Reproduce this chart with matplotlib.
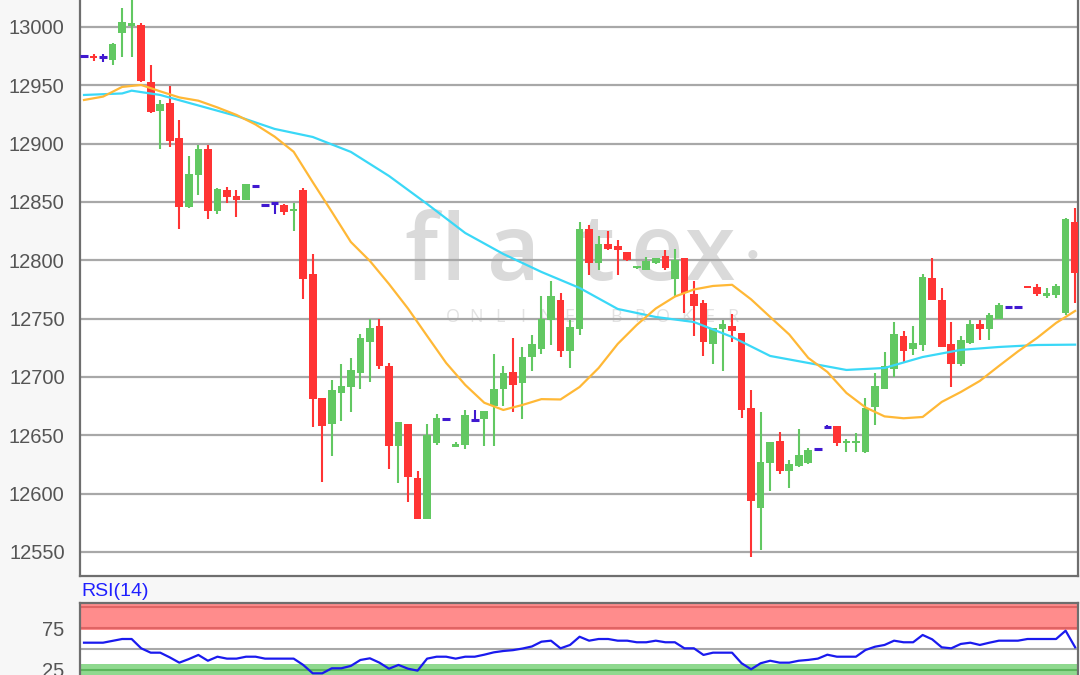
import matplotlib
matplotlib.use("Agg")
import matplotlib.pyplot as plt
import numpy as np

# ---------------- data ----------------
opens = [12975, 12975, 12974, 12972, 12995, 13001, 13002, 12953, 12928, 12935,
         12905, 12846, 12873, 12895, 12842, 12860, 12855, 12852, 12864, 12847,
         12849, 12847, 12842, 12860, 12788, 12682, 12660, 12686, 12691, 12703,
         12730, 12744, 12709, 12641, 12660, 12613, 12578, 12643, 12664, 12640,
         12642, 12663, 12664, 12675, 12690, 12704, 12695, 12717, 12724, 12749,
         12766, 12722, 12741, 12827, 12798, 12814, 12812, 12807, 12793, 12792,
         12798, 12804, 12784, 12802, 12771, 12763, 12728, 12741, 12744, 12738,
         12673, 12588, 12626, 12645, 12619, 12624, 12626, 12638, 12657, 12658,
         12643, 12643, 12636, 12674, 12690, 12707, 12735, 12724, 12727, 12785,
         12766, 12728, 12711, 12729, 12745, 12741, 12750, 12760, 12760, 12776.5,
         12777, 12769, 12770, 12755, 12833]
highs = [12975, 12977, 12977, 12986, 13016, 13030, 13003, 12967, 12937, 12949,
         12920, 12889, 12899, 12899, 12862, 12863, 12860, 12865, 12864, 12847,
         12849, 12848, 12849, 12862, 12805, 12682, 12697, 12711, 12716, 12737,
         12750, 12750, 12712, 12661, 12660, 12619, 12660, 12668, 12664, 12644,
         12672, 12672, 12671, 12720, 12709, 12733, 12726, 12736, 12769, 12782,
         12772, 12749, 12833, 12830, 12821, 12825, 12817, 12807, 12793.5, 12803,
         12802, 12809, 12810, 12802, 12782, 12766, 12742, 12749, 12754, 12738,
         12689, 12670, 12644, 12653, 12629, 12655, 12639, 12638, 12659, 12658,
         12647, 12652, 12682, 12703, 12721, 12747, 12739, 12744, 12788, 12802,
         12776, 12747, 12735, 12749, 12749, 12755, 12763, 12760, 12760, 12776.5,
         12780, 12776, 12780, 12836, 12845]
lows = [12975, 12971, 12970, 12967, 12974, 12974, 12953, 12926, 12895, 12897,
        12827, 12845, 12856, 12835, 12840, 12849, 12837, 12852, 12864, 12847,
        12840, 12839, 12825, 12767, 12657, 12610, 12632, 12662, 12670, 12690,
        12696, 12707, 12621, 12609, 12593, 12578, 12578, 12642, 12664, 12640,
        12638, 12663, 12641, 12641, 12675, 12670, 12664, 12705, 12720, 12727,
        12717, 12708, 12736, 12787, 12792, 12809, 12787, 12799, 12792.5, 12792,
        12797, 12792, 12769, 12755, 12735, 12718, 12711, 12705, 12730, 12665,
        12546, 12552, 12602, 12617, 12605, 12623, 12625, 12638, 12657, 12641,
        12636, 12636, 12635, 12659, 12690, 12700, 12712, 12719, 12722, 12766,
        12726, 12691, 12709, 12728, 12732, 12732, 12750, 12760, 12760, 12776,
        12769, 12768, 12768, 12753, 12763]
closes = [12975, 12973, 12974, 12985, 13004, 13002, 12954, 12927, 12934, 12902,
          12846, 12874, 12895, 12842, 12861, 12854, 12852, 12865, 12864, 12847,
          12849, 12841, 12843, 12784, 12681, 12658, 12689, 12692, 12706, 12733,
          12742, 12709, 12641, 12661, 12614, 12578, 12650, 12665, 12664, 12642,
          12667, 12663, 12671, 12690, 12703, 12693, 12717, 12728, 12750, 12769,
          12722, 12743, 12827, 12798, 12814, 12810, 12809, 12800, 12793.5, 12799,
          12802, 12793, 12800, 12772, 12761, 12730, 12742, 12745, 12739, 12672,
          12594, 12627, 12644, 12619, 12625, 12633, 12637, 12638, 12657, 12643,
          12644, 12644, 12673, 12692, 12709, 12737, 12722, 12729, 12786, 12766,
          12726, 12711, 12732, 12745, 12741, 12753, 12762, 12760, 12760, 12776,
          12771, 12772, 12778, 12835, 12789]

ma_fast_idx = [0, 2, 4, 6, 8, 10, 12, 14, 16, 18, 20, 22, 24, 26, 28, 30, 32, 34,
               36, 38, 40, 42, 44, 46, 48, 50, 52, 54, 56, 58, 60, 62, 64, 66, 68,
               70, 72, 74, 76, 78, 80, 82, 84, 86, 88, 90, 92, 94, 96, 98, 100,
               102, 104]
ma_fast = [12937.4, 12940.3, 12948.6, 12950.3, 12944.8, 12939.6, 12936.8, 12931,
           12924.6, 12916.4, 12906, 12893, 12867, 12841.6, 12815.7, 12799.4,
           12779.7, 12758.6, 12735.2, 12712, 12693.2, 12677.9, 12671.7, 12676,
           12681, 12680.7, 12691.4, 12707.7, 12728.3, 12744.6, 12758.7, 12768.9,
           12775, 12778, 12779, 12766.5, 12751.4, 12736.4, 12716.3, 12704.3,
           12686.3, 12673.9, 12666.2, 12664.6, 12665.7, 12678.6, 12687.1,
           12696.6, 12709.4, 12721.9, 12733.4, 12746.3, 12756.6]

ma_slow_idx = [0, 4, 5, 8, 12, 16, 20, 24, 28, 32, 36, 40, 44, 48, 52, 56, 60,
               64, 68, 72, 76, 80, 84, 88, 92, 96, 100, 104]
ma_slow = [12941.7, 12943, 12945.4, 12941.7, 12932.7, 12923.7, 12912.6, 12905.7,
           12892.9, 12872.3, 12848.3, 12823.4, 12805.4, 12790, 12776.3, 12758.3,
           12751.4, 12747.1, 12734.3, 12718, 12712, 12706, 12707.7, 12717.1,
           12723.2, 12725.7, 12727.4, 12727.7]

rsi = [57.5, 57.5, 57.5, 59.7, 61.9, 61.9, 50.8, 45.6, 45.6, 40, 33.7, 38, 42.9,
       36, 40.8, 38.5, 38.5, 40.8, 40.8, 38.5, 38.5, 38.5, 38.5, 31, 21, 21, 27,
       27, 29.8, 36.9, 38.9, 33.7, 26.5, 31, 26.5, 24.2, 38.5, 40.8, 40.8, 38.5,
       40.8, 40.8, 43.2, 46, 47.6, 48.6, 50.5, 53, 58.7, 59.9, 50.8, 54.8, 64.6,
       59.9, 61.9, 61.9, 59.9, 59.9, 58, 58, 59.9, 58, 58, 50.8, 50.8, 42.9, 45.6,
       45.6, 45.6, 33, 25.8, 33, 36, 33.7, 33.7, 36, 37, 38.5, 43.2, 40.8, 40.8,
       40.8, 48.8, 52.7, 54.8, 59.9, 58, 58, 66.7, 61.5, 52, 50.8, 56, 57.5, 54.8,
       57.5, 59.9, 59.9, 59.9, 61.9, 61.9, 61.9, 61.9, 71.8, 52]

price_ticks = [12550, 12600, 12650, 12700, 12750, 12800, 12850, 12900, 12950, 13000]
rsi_ticks = [25, 75]
rsi_label = "RSI(14)"
watermark_main = "flatex"
watermark_sub = "ONLINE BROKER"

# ---------------- styling ----------------
GREEN = "#62c862"
RED = "#ff3434"
BLUE = "#4019d0"
FONT = ["Liberation Sans", "DejaVu Sans"]
plt.rcParams["font.family"] = FONT

W, H = 1080, 675
fig = plt.figure(figsize=(W / 100, H / 100), dpi=100, facecolor="#f7f7f7")

# ---------------- main price panel ----------------
ax = fig.add_axes([80 / W, 1 - 576 / H, 998 / W, 576 / H])
ax.set_facecolor("white")
ax.set_xlim(-0.42, 104.3)
ax.set_ylim(12529.4, 13023.1)

x = np.arange(len(opens))
o = np.array(opens, float)
h = np.array(highs, float)
l = np.array(lows, float)
c = np.array(closes, float)

doji = o == c
up = (c > o)
down = (c < o)
cols = np.where(up, GREEN, np.where(down, RED, BLUE))

# watermark (inside the axes, below grid and candles)
wm_x = [421, 453, 514, 596, 657, 710]
for ch, px in zip(watermark_main, wm_x):
    ax.text(px / W, 1 - 280 / H, ch, fontsize=66, color="#dadada",
            ha="center", va="baseline", family=["Open Sans", "DejaVu Sans"],
            fontweight="semibold", transform=fig.transFigure, zorder=0.1)
ax.text(753 / W, 1 - 257 / H, "\u2022", fontsize=24, color="#dadada",
        ha="center", va="center", transform=fig.transFigure, zorder=0.1)
sub_x = np.linspace(453, 733, len(watermark_sub))
for ch, px in zip(watermark_sub, sub_x):
    if ch != " ":
        ax.text(px / W, 1 - 317 / H, ch, fontsize=13, color="#e2e2e2",
                ha="center", va="center", family=["Open Sans", "DejaVu Sans"],
                transform=fig.transFigure, zorder=0.1)

# wicks
ax.vlines(x, l, h, colors=cols, lw=1.5, zorder=3)
# bodies
bw = 0.8
body_bot = np.minimum(o, c)
body_h = np.maximum(np.abs(c - o), 2.2)
nd = ~doji
ax.bar(x[nd], body_h[nd], bottom=body_bot[nd], width=bw, color=cols[nd],
       edgecolor="none", zorder=4)
# flat (open == close) candles
ax.hlines(o[doji], x[doji] - bw / 2, x[doji] + bw / 2, colors=BLUE, lw=2.2, zorder=4)

# moving averages
ax.plot(ma_slow_idx, ma_slow, color="#3ad8f7", lw=1.6, zorder=5)
ax.plot(ma_fast_idx, ma_fast, color="#ffb836", lw=1.6, zorder=5)

ax.set_yticks(price_ticks)
ax.set_xticks([])
ax.yaxis.grid(True, color="#a8a8a8", lw=1.6)
ax.set_axisbelow(True)
ax.tick_params(axis="y", length=0, pad=11, labelsize=14.5, labelcolor="#555555")
for s in ["left", "bottom", "right"]:
    ax.spines[s].set_color("#6e6e6e")
    ax.spines[s].set_linewidth(1.6)
ax.spines["top"].set_visible(False)

# ---------------- RSI panel ----------------
ax2 = fig.add_axes([80 / W, 0, 998 / W, (675 - 603) / H])
ax2.set_facecolor("white")
ax2.set_xlim(-0.42, 104.3)
ax2.set_ylim(19, 104.8)
ax2.axhspan(72.6, 103.8, color="#ff8c8c", lw=0, zorder=1)
ax2.axhline(75.4, color="#e06464", lw=1.5, zorder=1.5)
ax2.axhline(100.4, color="#e06464", lw=1.5, zorder=1.5)
ax2.axhspan(0, 31.8, color="#8fd98f", lw=0, zorder=1)
ax2.axhline(25, color="#5cb65c", lw=1.5, zorder=1.5)
ax2.axhline(50, color="#a8a8a8", lw=1.5, zorder=1.5)
ax2.plot(x, rsi, color="#1a1aee", lw=1.6, zorder=3)
ax2.set_yticks(rsi_ticks)
ax2.set_xticks([])
ax2.tick_params(axis="y", length=0, pad=11, labelsize=14.5, labelcolor="#555555")
for s in ["left", "top", "right"]:
    ax2.spines[s].set_color("#6e6e6e")
    ax2.spines[s].set_linewidth(1.6)
ax2.spines["bottom"].set_visible(False)

fig.text(81 / W, 1 - 592 / H, rsi_label, fontsize=14, color="#1f1fff",
         ha="left", va="center")

fig.savefig("out.png", dpi=100, facecolor=fig.get_facecolor())
